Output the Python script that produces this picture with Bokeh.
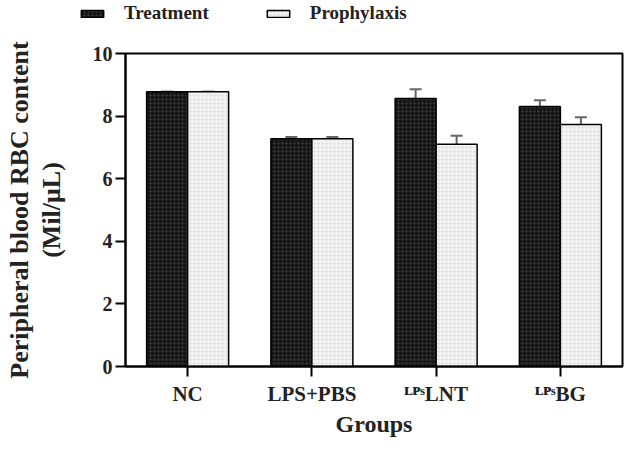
from bokeh.plotting import figure
from bokeh.layouts import column
from bokeh.models import (FactorRange, Range1d, Whisker, TeeHead, Legend, LegendItem,
                          LinearAxis, FixedTicker, ColumnDataSource)
from bokeh.transform import dodge
from bokeh.embed import file_html
from bokeh.resources import INLINE

groups = ["NC", "LPS+PBS", "\u1d38\u1d3e\u02e2LNT", "\u1d38\u1d3e\u02e2BG"]
treatment = [8.78, 7.28, 8.56, 8.31]
treatment_err = [0.0, 0.05, 0.3, 0.2]
prophylaxis = [8.78, 7.28, 7.10, 7.73]
prophylaxis_err = [0.0, 0.05, 0.27, 0.23]
y_ticks = [0, 2, 4, 6, 8, 10]

FONT = "Liberation Serif"

src = ColumnDataSource(dict(
    group=groups,
    treat=treatment,
    treat_up=[v + e for v, e in zip(treatment, treatment_err)],
    treat_lo=[v - e for v, e in zip(treatment, treatment_err)],
    proph=prophylaxis,
    proph_up=[v + e for v, e in zip(prophylaxis, prophylaxis_err)],
    proph_lo=[v - e for v, e in zip(prophylaxis, prophylaxis_err)],
))

OFF = 0.165
W = 0.33
DARK = dict(fill_color="#161616", line_color="black", line_width=1.5,
            hatch_pattern="dot", hatch_color="#444444", hatch_scale=4, hatch_weight=1.5)
LIGHT = dict(fill_color="#f3f3f3", line_color="black", line_width=1.5,
             hatch_pattern="dot", hatch_color="#d6d6d6", hatch_scale=4, hatch_weight=1.5)

# ---- main chart ----
p = figure(width=626, height=406, output_backend="svg", toolbar_location=None,
           x_range=FactorRange(factors=groups, range_padding=0),
           y_range=Range1d(0, 10),
           min_border_left=125, min_border_right=4, min_border_top=20, min_border_bottom=68)
p.frame_align = False

p.xgrid.visible = False
p.ygrid.visible = False
p.outline_line_color = "black"
p.outline_line_width = 2
p.background_fill_color = "white"
p.border_fill_color = "white"

p.vbar(x=dodge("group", -OFF, range=p.x_range), top="treat", width=W, source=src, **DARK)
p.vbar(x=dodge("group", OFF, range=p.x_range), top="proph", width=W, source=src, **LIGHT)

for b, up, lo in [(-OFF, "treat_up", "treat_lo"), (OFF, "proph_up", "proph_lo")]:
    w = Whisker(source=src, base=dodge("group", b, range=p.x_range), upper=up, lower=lo,
                line_color="#666666", line_width=2,
                upper_head=TeeHead(size=12, line_color="#666666", line_width=2),
                lower_head=TeeHead(size=12, line_color="#666666", line_width=2))
    p.add_layout(w)

for ax in (p.xaxis[0], p.yaxis[0]):
    ax.axis_line_width = 2
    ax.major_tick_line_width = 2
    ax.major_tick_in = 0
    ax.major_tick_out = 10
    ax.minor_tick_line_color = None
    ax.major_label_text_font = FONT
    ax.major_label_text_font_style = "bold"
    ax.major_label_text_color = "#222222"
    ax.axis_label_text_font = FONT
    ax.axis_label_text_font_style = "bold"
    ax.axis_label_text_color = "#222222"

p.yaxis.ticker = FixedTicker(ticks=y_ticks)
p.yaxis.major_label_text_font_size = "20px"
p.yaxis.major_label_standoff = 3
p.yaxis.axis_label = "(Mil/\u03bcL)"
p.yaxis.axis_label_text_font_size = "26px"
p.yaxis.axis_label_standoff = 24

p.xaxis.major_label_text_font_size = "21px"
p.xaxis.major_label_standoff = 5
p.xaxis.axis_label = "Groups"
p.xaxis.axis_label_text_font_size = "24px"
p.xaxis.axis_label_standoff = 2

outer = LinearAxis(axis_label="Peripheral blood RBC content", ticker=FixedTicker(ticks=[]),
                   axis_line_color=None, major_tick_line_color=None, minor_tick_line_color=None,
                   axis_label_text_font=FONT, axis_label_text_font_style="bold",
                   axis_label_text_font_size="26px", axis_label_text_color="#222222",
                   axis_label_standoff=0)
p.add_layout(outer, "left")

# ---- legend strip (separate figure, its bars hidden) ----
lg = figure(width=626, height=33, output_backend="svg", toolbar_location=None,
            x_range=FactorRange(factors=groups, range_padding=0), y_range=Range1d(100, 101),
            x_axis_location=None, y_axis_location=None,
            min_border_left=0, min_border_right=0, min_border_top=0, min_border_bottom=0)
lg.frame_align = False
lg.xgrid.visible = False
lg.ygrid.visible = False
lg.outline_line_color = None
r_t = lg.vbar(x=dodge("group", -OFF, range=lg.x_range), top="treat", width=W, source=src, **DARK)
r_p = lg.vbar(x=dodge("group", OFF, range=lg.x_range), top="proph", width=W, source=src, **LIGHT)
r_t.visible = False
r_p.visible = False

legend = Legend(items=[LegendItem(label="Treatment", renderers=[r_t]),
                       LegendItem(label="Prophylaxis", renderers=[r_p])],
                orientation="horizontal", location=(78, 9),
                label_text_font=FONT, label_text_font_style="bold", label_text_font_size="19px",
                label_text_color="#222222",
                glyph_width=28, glyph_height=9, label_standoff=18, spacing=55,
                padding=0, margin=0, border_line_color=None, background_fill_alpha=0,
                inactive_fill_alpha=0)
lg.add_layout(legend, "center")

layout = column(lg, p, spacing=0)
open("out.html", "w").write(file_html(layout, INLINE))
